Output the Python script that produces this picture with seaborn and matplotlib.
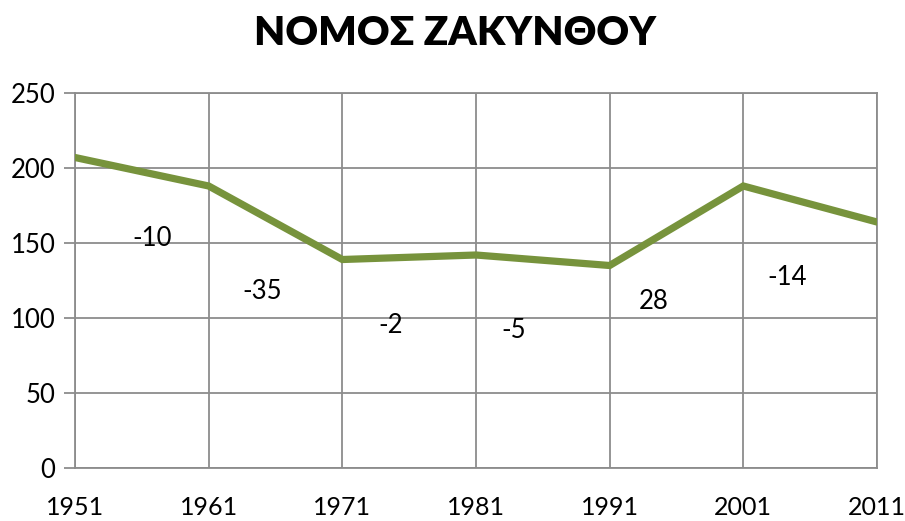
import numpy as np
import pandas as pd
import matplotlib.pyplot as plt
import seaborn as sns

# data
years = [1951, 1961, 1971, 1981, 1991, 2001, 2011]
values = [207, 188, 139, 142, 135, 188, 164]
changes = ['-10', '-35', '-2', '-5', '28', '-14']
# where each change label sits (year, value)
label_x = [1956.8, 1965.0, 1974.6, 1983.8, 1994.3, 2004.3]
label_y = [153, 118, 95, 92, 111, 127]

df = pd.DataFrame({'year': years, 'value': values})

sns.set_style('white')
plt.rcParams['font.family'] = ['Lato', 'DejaVu Sans']
plt.rcParams['text.color'] = 'black'
plt.rcParams['xtick.color'] = 'black'
plt.rcParams['ytick.color'] = 'black'

grid_c = '#8c8c8c'
fig = plt.figure(figsize=(9.05, 5.21), dpi=100)
ax = fig.add_axes([0.0829, 0.1017, 0.969 - 0.0829, 0.8215 - 0.1017])

sns.lineplot(data=df, x='year', y='value', ax=ax, color='#77933C', linewidth=5.2,
             solid_joinstyle='miter', zorder=3)

for x, y, t in zip(label_x, label_y, changes):
    ax.text(x, y, t, ha='center', va='center', fontsize=18.5, color='black', zorder=4)

ax.set_xlim(1951, 2011)
ax.set_ylim(0, 250)
ax.set_xticks(years)
ax.set_yticks(range(0, 251, 50))
ax.grid(True, color=grid_c, linewidth=1.3)
for s in ax.spines.values():
    s.set_color(grid_c)
    s.set_linewidth(1.3)
ax.tick_params(axis='y', length=8, width=1.3, color=grid_c, labelcolor='black',
               labelsize=18.5, pad=6, left=True)
ax.tick_params(axis='x', length=0, labelsize=18, labelcolor='black', pad=20)
ax.set_xlabel('')
ax.set_ylabel('')

fig.suptitle('ΝΟΜΟΣ ΖΑΚΥΝΘΟΥ', fontsize=29, fontweight='heavy', color='black',
             y=0.972, x=0.503, va='top')

fig.savefig('out.png', dpi=100)
